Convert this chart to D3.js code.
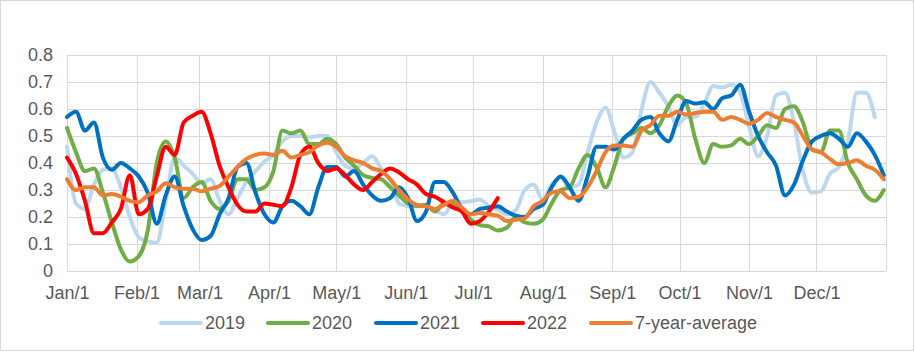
<!DOCTYPE html>
<html>
<head>
<meta charset="utf-8">
<script src="https://cdn.jsdelivr.net/npm/d3@7"></script>
<style>
  html, body { margin: 0; padding: 0; background: #fff; }
  svg { display: block; }
  text { font-family: "Liberation Sans", Arial, sans-serif; fill: #595959; }
</style>
</head>
<body>
<svg id="chart" width="915" height="352"></svg>
<script>
// ---- data (day-of-year sampled every 4 days) ----
const days = d3.range(0, 365, 4);
const monthDays = [0, 31, 59, 90, 120, 151, 181, 212, 243, 273, 304, 334];
const monthLabels = ["Jan/1","Feb/1","Mar/1","Apr/1","May/1","Jun/1","Jul/1","Aug/1","Sep/1","Oct/1","Nov/1","Dec/1"];
const yTicks = [0, 0.1, 0.2, 0.3, 0.4, 0.5, 0.6, 0.7, 0.8];
const seriesNames = ["2019", "2020", "2021", "2022", "7-year-average"];
const seriesColors = ["#BDD7EE", "#70AD47", "#0070C0", "#FF0000", "#ED7D31"];

const s2019 = [0.46,0.25,0.23,0.32,0.375,0.38,0.31,0.20,0.125,0.11,
 0.105,0.26,0.42,0.39,0.36,0.325,0.34,0.26,0.21,0.27,
 0.33,0.37,0.405,0.43,0.48,0.50,0.50,0.495,0.50,0.50,
 0.44,0.39,0.38,0.40,0.425,0.38,0.34,0.25,0.24,0.245,
 0.24,0.225,0.21,0.25,0.255,0.258,0.265,0.24,0.225,0.21,
 0.225,0.30,0.32,0.265,0.32,0.345,0.31,0.32,0.44,0.55,
 0.605,0.515,0.42,0.44,0.595,0.70,0.66,0.61,0.54,0.57,
 0.57,0.62,0.685,0.68,0.69,0.66,0.535,0.425,0.50,0.65,
 0.66,0.55,0.37,0.29,0.295,0.36,0.385,0.48,0.66,0.66,
 0.57,null];

const s2020 = [0.53,0.44,0.37,0.38,0.29,0.18,0.08,0.035,0.055,0.15,
 0.40,0.48,0.42,0.27,0.31,0.33,0.26,0.23,0.26,0.34,
 0.34,0.30,0.31,0.37,0.52,0.51,0.52,0.47,0.47,0.49,
 0.47,0.42,0.39,0.355,0.345,0.34,0.31,0.28,0.25,0.24,
 0.245,0.22,0.25,0.25,0.225,0.19,0.17,0.165,0.15,0.16,
 0.20,0.18,0.175,0.19,0.25,0.30,0.31,0.38,0.43,0.385,
 0.31,0.39,0.49,0.51,0.53,0.51,0.54,0.61,0.65,0.62,
 0.49,0.40,0.47,0.46,0.465,0.49,0.47,0.50,0.54,0.53,
 0.60,0.61,0.55,0.45,0.44,0.52,0.52,0.40,0.34,0.28,
 0.26,0.30];

const s2021 = [0.57,0.59,0.52,0.55,0.42,0.375,0.40,0.38,0.35,0.29,
 0.175,0.28,0.35,0.24,0.155,0.115,0.13,0.21,0.27,0.385,
 0.40,0.29,0.21,0.18,0.24,0.26,0.24,0.21,0.31,0.385,
 0.385,0.35,0.37,0.32,0.28,0.26,0.27,0.31,0.27,0.185,
 0.22,0.33,0.33,0.29,0.23,0.21,0.23,0.235,0.24,0.22,
 0.205,0.20,0.23,0.245,0.31,0.35,0.31,0.26,0.35,0.46,
 0.46,0.45,0.49,0.52,0.56,0.57,0.51,0.48,0.56,0.63,
 0.62,0.625,0.60,0.64,0.65,0.69,0.59,0.50,0.44,0.39,
 0.28,0.32,0.41,0.48,0.50,0.51,0.49,0.46,0.51,0.48,
 0.43,0.355];

const s2022 = [0.42,0.36,0.26,0.14,0.14,0.18,0.23,0.355,0.21,0.23,
 0.35,0.46,0.43,0.55,0.575,0.59,0.51,0.39,0.31,0.245,
 0.22,0.22,0.25,0.245,0.24,0.31,0.43,0.46,0.40,0.37,
 0.38,0.355,0.32,0.30,0.33,0.36,0.38,0.365,0.34,0.32,
 0.285,0.275,0.255,0.235,0.22,0.175,0.185,0.22,0.27];

const sAvg = [0.34,0.30,0.31,0.31,0.28,0.285,0.275,0.26,0.255,0.28,
 0.295,0.325,0.31,0.305,0.305,0.295,0.305,0.315,0.35,0.385,
 0.415,0.43,0.435,0.43,0.445,0.42,0.43,0.44,0.465,0.475,
 0.46,0.425,0.41,0.40,0.38,0.37,0.34,0.30,0.265,0.245,
 0.24,0.23,0.245,0.26,0.235,0.21,0.215,0.21,0.205,0.185,
 0.19,0.195,0.24,0.26,0.29,0.295,0.27,0.275,0.31,0.37,
 0.44,0.465,0.465,0.46,0.52,0.54,0.575,0.575,0.59,0.58,
 0.585,0.59,0.59,0.56,0.57,0.56,0.545,0.56,0.585,0.57,
 0.56,0.55,0.50,0.45,0.44,0.415,0.395,0.40,0.41,0.39,
 0.375,0.34];

const allSeries = [s2019, s2020, s2021, s2022, sAvg];

// ---- drawing ----
const svg = d3.select("#chart");
const W = 915, H = 352;
const plot = { left: 67, right: 886, top: 55, bottom: 271 };

svg.append("rect").attr("x", 0.5).attr("y", 0.5).attr("width", W - 2).attr("height", H - 2)
  .attr("fill", "#fff").attr("stroke", "#D9D9D9").attr("stroke-width", 1);

const x = d3.scaleLinear().domain([0, 365]).range([plot.left, plot.right]);
const y = d3.scaleLinear().domain([0, 0.8]).range([plot.bottom, plot.top]);

// horizontal gridlines
svg.append("g").selectAll("line").data(yTicks).join("line")
  .attr("x1", plot.left).attr("x2", plot.right)
  .attr("y1", d => Math.round(y(d)) + 0.5).attr("y2", d => Math.round(y(d)) + 0.5)
  .attr("stroke", "#D9D9D9").attr("stroke-width", 1);

// vertical gridlines (month starts + year end)
svg.append("g").selectAll("line").data(monthDays.concat([365])).join("line")
  .attr("x1", d => Math.round(x(d)) + 0.5).attr("x2", d => Math.round(x(d)) + 0.5)
  .attr("y1", plot.top).attr("y2", plot.bottom)
  .attr("stroke", "#D9D9D9").attr("stroke-width", 1);

// y axis labels
const yAxis = d3.axisLeft(y).tickValues(yTicks).tickSize(0).tickPadding(14)
  .tickFormat(d => d === 0 ? "0" : d3.format(".1f")(d));
const gy = svg.append("g").attr("transform", `translate(${plot.left},0)`).call(yAxis);
gy.select(".domain").remove();
gy.selectAll("text").style("font-size", "18px").attr("fill", "#595959");

// x axis labels
const xAxis = d3.axisBottom(x).tickValues(monthDays).tickSize(0).tickPadding(15)
  .tickFormat((d, i) => monthLabels[i]);
const gx = svg.append("g").attr("transform", `translate(0,${plot.bottom})`).call(xAxis);
gx.select(".domain").remove();
gx.selectAll("text").style("font-size", "18px").attr("fill", "#595959");

// lines
const line = d3.line()
  .defined(d => d[1] != null)
  .x(d => x(d[0])).y(d => y(d[1]))
  .curve(d3.curveMonotoneX);

allSeries.forEach((vals, i) => {
  const pts = vals.map((v, k) => [days[k], v]);
  svg.append("path").datum(pts)
    .attr("fill", "none")
    .attr("stroke", seriesColors[i])
    .attr("stroke-width", 4)
    .attr("stroke-linejoin", "round")
    .attr("stroke-linecap", "round")
    .attr("d", line);
});

// legend
const legendX = [159, 266, 374, 481, 589];
const lg = svg.append("g").attr("transform", "translate(0,323)");
seriesNames.forEach((name, i) => {
  lg.append("line").attr("x1", legendX[i] + 2).attr("x2", legendX[i] + 42)
    .attr("y1", 0).attr("y2", 0)
    .attr("stroke", seriesColors[i]).attr("stroke-width", 4).attr("stroke-linecap", "round");
  lg.append("text").attr("x", legendX[i] + 46).attr("y", 0).attr("dy", "0.35em")
    .style("font-size", "18px").text(name);
});
</script>
</body>
</html>
